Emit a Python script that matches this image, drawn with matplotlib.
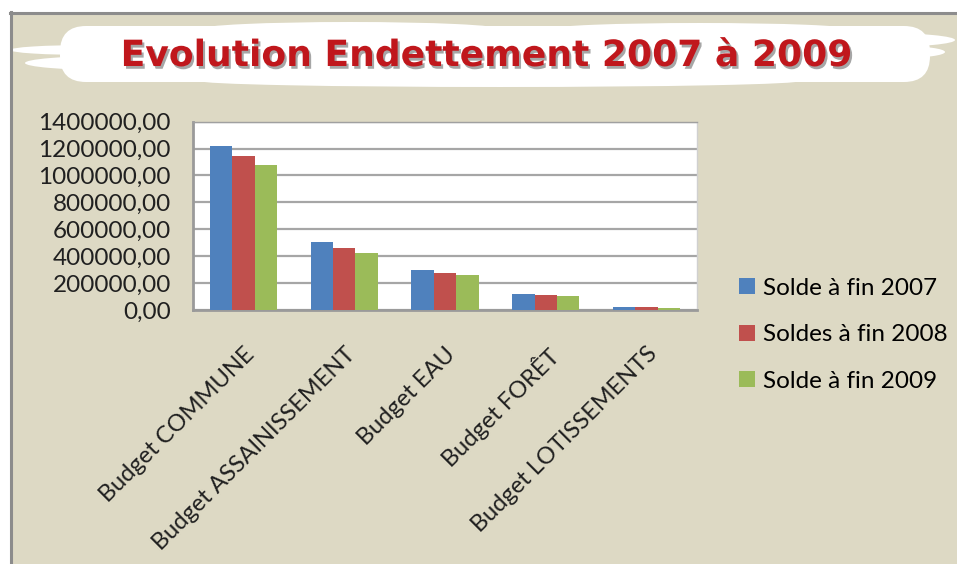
import numpy as np
import matplotlib
matplotlib.use("Agg")
import matplotlib.pyplot as plt
import matplotlib.patheffects as pe
from matplotlib.patches import Ellipse, Rectangle, FancyBboxPatch

categories = ["Budget COMMUNE", "Budget ASSAINISSEMENT", "Budget EAU",
              "Budget FORÊT", "Budget LOTISSEMENTS"]
series_names = ["Solde à fin 2007", "Soldes à fin 2008", "Solde à fin 2009"]
solde_2007 = [1217000, 502000, 298000, 117000, 25000]
solde_2008 = [1148000, 460000, 273000, 109000, 25000]
solde_2009 = [1081000, 422000, 258000, 102000, 12000]
yticks = [0, 200000, 400000, 600000, 800000, 1000000, 1200000, 1400000]

colors = ["#4F81BD", "#C0504D", "#9BBB59"]
beige = "#DDD9C4"
font = "Lato"

W, H = 957, 564
fig = plt.figure(figsize=(W / 100, H / 100), dpi=100)
fig.patch.set_facecolor("white")

# fond en coordonnees pixels
bg = fig.add_axes([0, 0, 1, 1])
bg.set_xlim(0, W)
bg.set_ylim(H, 0)
bg.axis("off")
bg.add_patch(Rectangle((11, 13), W, H, facecolor=beige, edgecolor="none"))
bg.plot([11, 11], [12, H], color="#8C8C8C", lw=2.2)
bg.plot([10, W], [13, 13], color="#8C8C8C", lw=2.2)

# nuage blanc du titre
bg.add_patch(FancyBboxPatch((60, 26), 870, 56, boxstyle="round,pad=0,rounding_size=26",
                            facecolor="white", edgecolor="none"))
for (cx, cy, w, h) in [(90, 50, 160, 10), (110, 63, 170, 14), (880, 40, 150, 14),
                       (900, 52, 90, 12), (350, 29, 300, 14), (700, 29, 300, 12),
                       (500, 81, 600, 12)]:
    bg.add_patch(Ellipse((cx, cy), w, h, facecolor="white", edgecolor="none"))

bg.text(487, 56, "Evolution Endettement 2007 à 2009", ha="center", va="center",
        fontsize=26, fontweight="bold", color="#C0171C", family="DejaVu Sans",
        path_effects=[pe.SimplePatchShadow(offset=(1.5, -2), shadow_rgbFace="#909090", alpha=0.8),
                      pe.Normal()])

# graphique
ax = fig.add_axes([193 / W, 1 - 310 / H, 504 / W, (310 - 121.7) / H])
ax.set_facecolor("white")
x = np.arange(len(categories))
w = 0.222
for i, vals in enumerate([solde_2007, solde_2008, solde_2009]):
    ax.bar(x + (i - 1) * w, vals, width=w, color=colors[i], label=series_names[i], zorder=3)

ax.set_xlim(-0.5, len(categories) - 0.5)
ax.set_ylim(0, 1400000)
ax.set_yticks(yticks)
ax.set_yticklabels([f"{v:.2f}".replace(".", ",") for v in yticks],
                   fontsize=17.5, family=font, color="#202020")
ax.yaxis.grid(True, color="#A6A6A6", lw=1.6, zorder=1)
ax.tick_params(axis="both", length=0)
ax.tick_params(axis="y", pad=16)
ax.set_xticks(x)
ax.set_xticklabels(categories, rotation=45, ha="right", va="top",
                   rotation_mode="anchor", fontsize=17, family=font, color="#202020")
ax.tick_params(axis="x", pad=24)
for s in ["left", "bottom"]:
    ax.spines[s].set_color("#9A9A9A")
    ax.spines[s].set_linewidth(2)
ax.spines["top"].set_color("#A0A0A0")
ax.spines["top"].set_linewidth(1)
ax.spines["right"].set_color("#D0D0D0")
ax.spines["right"].set_linewidth(1)

fig.legend(loc="upper left", bbox_to_anchor=(717 / W, 1 - 256 / H), frameon=False,
           prop={"family": font, "size": 17.5}, handlelength=0.65, handleheight=0.65,
           handletextpad=0.35, labelspacing=1.05)

fig.savefig("out.png", dpi=100, facecolor=fig.get_facecolor())
